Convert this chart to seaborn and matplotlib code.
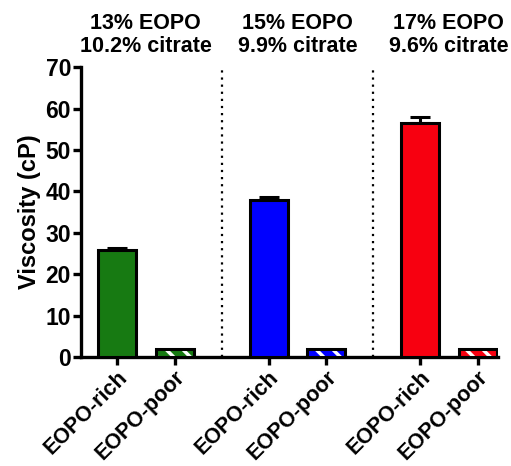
import numpy as np
import pandas as pd
import matplotlib
matplotlib.use("Agg")
import matplotlib.pyplot as plt
import seaborn as sns
from matplotlib.patches import Rectangle
from matplotlib.transforms import blended_transform_factory

groups = ["13% EOPO\n10.2% citrate", "15% EOPO\n9.9% citrate", "17% EOPO\n9.6% citrate"]
phases = ["EOPO-rich", "EOPO-poor"]
rich_mean = [25.8, 38.0, 56.4]
rich_err = [0.6, 0.6, 1.5]
poor_mean = [1.9, 1.9, 1.9]
colors = ["#177a12", "#0000ff", "#f70010"]

group_gap = 2.635  # spacing between group starts, in bar slots

rows = []
for g, name in enumerate(groups):
    for i, ph in enumerate(phases):
        val = rich_mean[g] if i == 0 else poor_mean[g]
        rows.append({"group": name, "phase": ph, "pos": g * group_gap + i, "viscosity": val})
df = pd.DataFrame(rows)

sns.set_style("ticks", {"axes.edgecolor": "black", "text.color": "black",
                        "axes.labelcolor": "black", "xtick.color": "black",
                        "ytick.color": "black"})
plt.rcParams['font.family'] = ['Liberation Sans', 'DejaVu Sans']
plt.rcParams['font.weight'] = 'bold'
plt.rcParams['hatch.linewidth'] = 2.5

fig = plt.figure(figsize=(5.11, 4.66), dpi=100)
ax = fig.add_axes([0.158, 0.234, 0.817, 0.622])

sns.barplot(data=df, x="pos", y="viscosity", hue="group", palette=colors, saturation=1,
            native_scale=True, width=0.66, dodge=False, errorbar=None,
            edgecolor="black", linewidth=2.2, legend=False, ax=ax, zorder=3)

# upward-only error bars on the rich phase
rich = df[df["phase"] == "EOPO-rich"]
ax.errorbar(rich["pos"], rich["viscosity"], yerr=[np.zeros(len(rich_err)), rich_err],
            fmt="none", ecolor="black", elinewidth=2.2, capsize=7, capthick=2.2, zorder=2)

# hatch the poor phase: white stripes over colour, black outline on top
poor_pos = df.loc[df["phase"] == "EOPO-poor", "pos"].values
for p in list(ax.patches):
    cx = p.get_x() + p.get_width() / 2
    if np.any(np.isclose(cx, poor_pos, atol=0.05)):
        p.set_hatch("\\\\")
        p.set_edgecolor("white")
        p.set_linewidth(0)
        ax.add_patch(Rectangle((p.get_x(), 0), p.get_width(), p.get_height(),
                               fill=False, edgecolor="black", lw=2.2, zorder=4))

# dotted separators between groups
seps = [(g * group_gap + 1 + (g + 1) * group_gap) / 2 for g in range(len(groups) - 1)]
ax.vlines(seps, 0, 70, colors="black", linestyles=(0, (1, 2.2)), lw=1.6, zorder=1)

trans = blended_transform_factory(ax.transData, ax.transAxes)
for g, name in enumerate(groups):
    ax.text(g * group_gap + 0.5, 1.035, name, transform=trans, ha="center", va="bottom",
            fontsize=15.5, fontweight="bold", linespacing=1.15, color="black")

ax.set_ylim(0, 70)
ax.set_yticks(range(0, 71, 10))
ax.set_xlim(-0.633, 6.63)
ax.set_xticks(df["pos"])
ax.set_xticklabels(df["phase"], rotation=45, ha="right", rotation_mode="anchor",
                   fontsize=15.5, fontweight="bold")
ax.set_xlabel("")
ax.set_ylabel("Viscosity (cP)", fontsize=17, fontweight="bold", labelpad=3)
for lab in ax.get_yticklabels():
    lab.set_fontsize(16.5)
    lab.set_fontweight("bold")

sns.despine(ax=ax)
for s in ["left", "bottom"]:
    ax.spines[s].set_linewidth(2.4)
ax.tick_params(width=2.4, length=6, pad=1, color="black", labelcolor="black")

fig.savefig("out.png", dpi=100)
